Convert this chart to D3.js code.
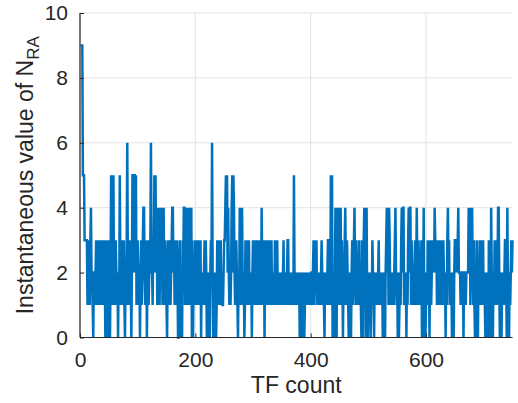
<!DOCTYPE html>
<html>
<head>
<meta charset="utf-8">
<script src="https://cdn.jsdelivr.net/npm/d3@7"></script>
<style>
  html, body { margin: 0; padding: 0; background: #fff; }
  svg { display: block; }
  text { font-family: "Liberation Sans", Arial, Helvetica, sans-serif; fill: #262626; }
</style>
</head>
<body>
<svg id="chart" width="518" height="403"></svg>
<script>
// Instantaneous N_RA per TF (TF count 1..750)
const nraValues = [
  9,9,9,9,5,5,5,3,3,3, 3,3,1,2,3,2,1,3,4,2, 2,1,0,2,2,1,2,3,1,3, 2,3,1,3,2,1,3,1,2,3,
  1,3,2,0,3,1,3,0,2,3, 1,0,2,5,1,5,2,5,1,2, 1,3,2,1,2,0,2,1,5,2, 1,3,2,1,2,3,1,0,2,1,
  3,6,2,1,2,3,1,2,0,2, 5,5,2,5,5,2,5,1,2,3, 2,1,2,0,2,3,1,2,3,4, 4,2,1,2,3,0,2,3,1,2,
  2,3,6,3,2,1,3,2,5,2, 5,2,4,1,4,2,4,1,3,4, 2,4,1,3,4,2,1,3,2,1, 0,2,3,1,2,3,1,2,3,4,
  4,2,3,1,3,2,1,3,2,0, 0,2,3,0,2,1,0,3,2,4, 4,1,4,2,4,1,4,3,4,1, 4,1,4,0,3,0,2,1,2,3,
  1,3,2,3,1,3,2,1,3,0, 2,1,2,1,2,3,1,3,2,0, 2,0,1,2,0,2,3,2,6,2, 0,2,1,0,2,0,1,3,2,3,
  1,3,2,3,1,2,1,1,2,3, 3,4,5,4,5,2,4,2,1,2, 1,2,4,5,2,5,4,2,1,2, 3,2,1,0,2,1,4,2,4,1,
  4,2,1,2,0,1,3,2,3,1, 3,2,3,1,2,1,2,0,2,3, 1,3,2,3,1,3,2,1,3,2, 1,2,3,1,4,2,1,2,3,0,
  2,1,3,2,3,1,3,2,3,1, 2,3,1,2,1,2,1,3,1,3, 2,3,1,2,1,2,1,2,1,2, 1,2,3,1,2,1,2,1,2,3,
  3,1,2,1,2,1,2,1,2,1, 5,2,1,2,1,2,1,2,1,2, 0,2,1,0,2,1,0,2,0,1, 2,1,2,1,2,1,2,1,2,1,
  2,2,1,2,3,1,2,3,2,3, 1,2,1,2,1,2,1,2,3,2, 1,2,1,0,2,1,2,1,2,3, 3,1,2,1,5,2,5,0,2,1,
  0,2,4,1,0,4,2,4,1,4, 2,4,1,3,2,0,2,1,3,4, 2,1,3,2,1,0,2,0,1,0, 2,3,1,2,3,4,2,1,3,1,
  2,1,2,3,1,2,1,0,3,2, 0,3,4,2,3,0,4,1,0,2, 1,2,1,0,2,1,3,2,1,0, 2,1,2,1,2,1,2,3,1,2,
  1,2,1,2,0,2,0,1,0,2, 3,4,2,4,1,4,3,1,2,1, 2,1,2,1,2,3,4,2,1,2, 0,2,0,1,2,1,3,4,2,4,
  4,1,2,1,2,0,2,1,3,4, 2,4,4,1,3,2,1,2,1,2, 3,1,2,4,2,1,3,2,1,2, 1,3,0,2,1,4,0,2,0,1,
  2,1,3,2,3,0,2,3,1,2, 3,2,3,2,4,3,2,3,1,2, 1,3,2,1,2,3,1,2,1,3, 2,1,2,0,2,1,3,4,2,3,
  1,2,1,2,0,2,1,0,2,3, 3,2,3,2,3,4,2,2,2,1, 2,2,1,2,0,2,2,2,1,2, 2,2,2,4,2,4,1,4,2,4,
  2,1,3,1,0,2,0,3,1,0, 2,1,3,2,3,1,3,2,3,1, 2,1,0,2,0,1,2,0,3,1, 2,0,4,2,1,0,2,1,3,1,
  3,2,1,2,4,4,2,0,1,2, 0,2,1,2,1,2,3,3,2,0, 4,2,1,0,2,1,2,3,2,3
];

const xTicks = [0, 200, 400, 600];
const yTicks = [0, 2, 4, 6, 8, 10];
const xLabel = "TF count";
const yLabelMain = "Instantaneous value of N";
const yLabelSub = "RA";

const svg = d3.select("#chart");
const plot = { left: 80, right: 512.5, top: 13, bottom: 337.5 };

const x = d3.scaleLinear().domain([0, 750]).range([plot.left, plot.right]);
const y = d3.scaleLinear().domain([0, 10]).range([plot.bottom, plot.top]);

const points = nraValues.map((v, i) => ({ tf: i + 1, v }));

// grid lines
const grid = svg.append("g");
grid.selectAll("line.gx").data(xTicks).join("line")
  .attr("x1", d => x(d)).attr("x2", d => x(d))
  .attr("y1", plot.top).attr("y2", plot.bottom)
  .attr("stroke", "#e3e3e3").attr("stroke-width", 1);
grid.selectAll("line.gy").data(yTicks).join("line")
  .attr("x1", plot.left).attr("x2", plot.right)
  .attr("y1", d => y(d)).attr("y2", d => y(d))
  .attr("stroke", "#e3e3e3").attr("stroke-width", 1);

// data line
const line = d3.line().x(d => x(d.tf)).y(d => y(d.v));
svg.append("path")
  .datum(points)
  .attr("d", line)
  .attr("fill", "none")
  .attr("stroke", "#0072BD")
  .attr("stroke-width", 2.5)
  .attr("stroke-linejoin", "miter");

// axes with inward ticks
const xAxis = d3.axisBottom(x).tickValues(xTicks).tickSize(-4).tickPadding(15).tickFormat(d3.format("d"));
const yAxis = d3.axisLeft(y).tickValues(yTicks).tickSize(-4).tickPadding(12).tickFormat(d3.format("d"));

const gx = svg.append("g").attr("transform", `translate(0,${plot.bottom})`).call(xAxis);
const gy = svg.append("g").attr("transform", `translate(${plot.left},0)`).call(yAxis);

[gx, gy].forEach(g => {
  g.select(".domain").attr("stroke", "#262626").attr("stroke-width", 1.2);
  g.selectAll(".tick line").attr("stroke", "#262626");
  g.selectAll(".tick text")
    .attr("font-family", "'Liberation Sans', Arial, Helvetica, sans-serif")
    .attr("font-size", 21).attr("fill", "#262626");
});
gx.select(".domain").attr("d", `M${plot.left},0H${plot.right}`);
gy.select(".domain").attr("d", `M0,${plot.bottom}V${plot.top}`);

// axis labels
svg.append("text")
  .attr("x", (plot.left + plot.right) / 2)
  .attr("y", 393)
  .attr("text-anchor", "middle")
  .attr("font-size", 23)
  .text(xLabel);

const yl = svg.append("text")
  .attr("transform", `translate(33,${(plot.top + plot.bottom) / 2}) rotate(-90)`)
  .attr("text-anchor", "middle")
  .attr("font-size", 23);
yl.append("tspan").text(yLabelMain);
yl.append("tspan").attr("font-size", 17).attr("dy", 6).text(yLabelSub);
</script>
</body>
</html>
